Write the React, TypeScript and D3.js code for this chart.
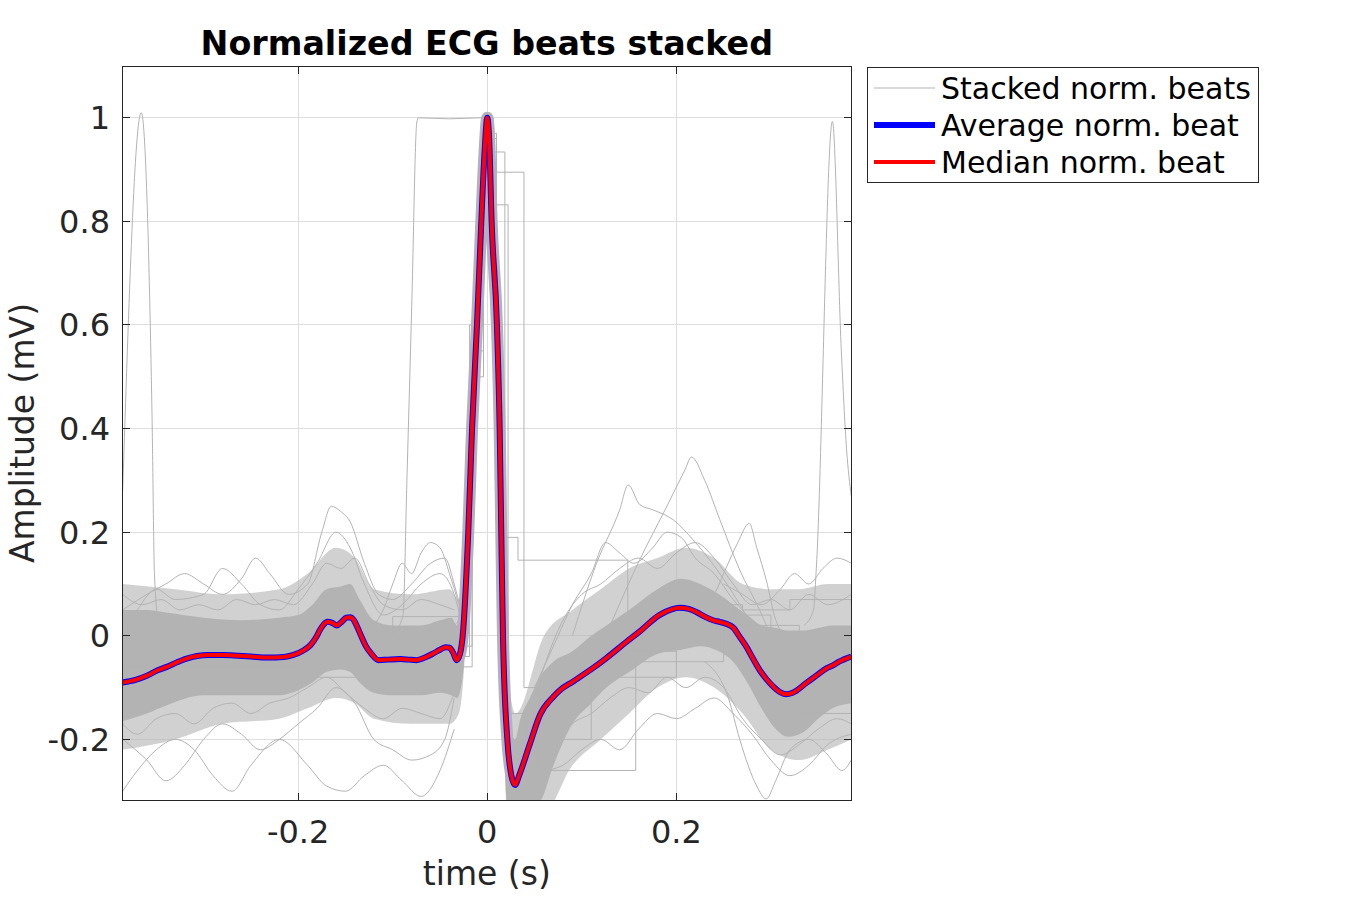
import React from "react";
import * as d3 from "d3";

// ---------- data ----------
const xTicks = [-0.2, 0, 0.2];
const yTicks = [-0.2, 0, 0.2, 0.4, 0.6, 0.8, 1];

const medianBeat: [number, number][] = [
  [-0.3856, -0.09], [-0.372, -0.085], [-0.36, -0.077], [-0.348, -0.066], [-0.339, -0.06], [-0.328, -0.051],
  [-0.318, -0.044], [-0.307, -0.039], [-0.295, -0.037], [-0.28, -0.037], [-0.268, -0.038], [-0.25, -0.04],
  [-0.233, -0.042], [-0.215, -0.041], [-0.205, -0.037], [-0.195, -0.029], [-0.187, -0.018], [-0.181, -0.003],
  [-0.177, 0.011], [-0.173, 0.022], [-0.169, 0.027], [-0.164, 0.025], [-0.159, 0.02], [-0.154, 0.027],
  [-0.149, 0.035], [-0.145, 0.036], [-0.141, 0.03], [-0.137, 0.015], [-0.133, -0.002], [-0.129, -0.018],
  [-0.122, -0.036], [-0.115, -0.047], [-0.105, -0.046], [-0.092, -0.045], [-0.083, -0.046], [-0.075, -0.047],
  [-0.066, -0.042], [-0.057, -0.034], [-0.05, -0.027], [-0.044, -0.022], [-0.04, -0.023], [-0.036, -0.033],
  [-0.0325, -0.047], [-0.029, -0.036], [-0.026, 0.0], [-0.0201, 0.2], [-0.0161, 0.4], [-0.0109, 0.6],
  [-0.0063, 0.8], [-0.003, 0.93], [0, 1.0], [0.002, 0.96], [0.0046, 0.8], [0.0102, 0.6], [0.0131, 0.4],
  [0.0148, 0.2], [0.0166, 0.0], [0.0212, -0.2], [0.0255, -0.27], [0.0293, -0.288], [0.034, -0.268],
  [0.0452, -0.208], [0.0557, -0.153], [0.0697, -0.118], [0.0768, -0.105], [0.0909, -0.088], [0.112, -0.062],
  [0.126, -0.043], [0.147, -0.012], [0.161, 0.008], [0.182, 0.04], [0.195, 0.051], [0.2034, 0.054],
  [0.213, 0.052], [0.221, 0.046], [0.231, 0.036], [0.2388, 0.03], [0.2456, 0.027], [0.253, 0.023],
  [0.26, 0.016], [0.267, -0.002], [0.274, -0.021], [0.281, -0.044], [0.288, -0.066], [0.295, -0.083],
  [0.302, -0.097], [0.309, -0.108], [0.316, -0.113], [0.323, -0.11], [0.3375, -0.091], [0.348, -0.077],
  [0.3586, -0.063], [0.3656, -0.057], [0.372, -0.05], [0.385, -0.04],
];

const averageBeat: [number, number][] = [
  [-0.3856, -0.09], [-0.372, -0.085], [-0.36, -0.077], [-0.348, -0.066], [-0.339, -0.06], [-0.328, -0.051],
  [-0.318, -0.044], [-0.307, -0.039], [-0.295, -0.037], [-0.28, -0.037], [-0.268, -0.038], [-0.25, -0.04],
  [-0.233, -0.042], [-0.215, -0.041], [-0.205, -0.037], [-0.195, -0.029], [-0.187, -0.018], [-0.181, -0.003],
  [-0.177, 0.011], [-0.173, 0.022], [-0.169, 0.027], [-0.164, 0.025], [-0.159, 0.02], [-0.154, 0.027],
  [-0.149, 0.035], [-0.145, 0.036], [-0.141, 0.03], [-0.137, 0.015], [-0.133, -0.002], [-0.129, -0.018],
  [-0.122, -0.036], [-0.115, -0.047], [-0.105, -0.046], [-0.092, -0.045], [-0.083, -0.046], [-0.075, -0.047],
  [-0.066, -0.042], [-0.057, -0.034], [-0.05, -0.027], [-0.044, -0.022], [-0.04, -0.023], [-0.036, -0.033],
  [-0.0325, -0.047], [-0.029, -0.036], [-0.026, 0.0], [-0.0201, 0.2], [-0.0161, 0.4], [-0.0109, 0.6],
  [-0.0063, 0.8], [-0.003, 0.93], [0, 1.0], [0.002, 0.96], [0.0046, 0.8], [0.0102, 0.6], [0.0131, 0.4],
  [0.0148, 0.2], [0.0166, 0.0], [0.0212, -0.2], [0.0255, -0.27], [0.0293, -0.288], [0.034, -0.268],
  [0.0452, -0.208], [0.0557, -0.153], [0.0697, -0.118], [0.0768, -0.105], [0.0909, -0.088], [0.112, -0.062],
  [0.126, -0.043], [0.147, -0.012], [0.161, 0.008], [0.182, 0.04], [0.195, 0.051], [0.2034, 0.054],
  [0.213, 0.052], [0.221, 0.046], [0.231, 0.036], [0.2388, 0.03], [0.2456, 0.027], [0.253, 0.023],
  [0.26, 0.016], [0.267, -0.002], [0.274, -0.021], [0.281, -0.044], [0.288, -0.066], [0.295, -0.083],
  [0.302, -0.097], [0.309, -0.108], [0.316, -0.113], [0.323, -0.11], [0.3375, -0.091], [0.348, -0.077],
  [0.3586, -0.063], [0.3656, -0.057], [0.372, -0.05], [0.385, -0.04],
];

// dense core of the stacked beats: [t, low, high]
const coreBand: [number, number, number][] = [
  [-0.3856, -0.165, 0.05], [-0.36, -0.15, 0.05], [-0.34, -0.135, 0.045], [-0.3, -0.115, 0.035],
  [-0.26, -0.115, 0.03], [-0.22, -0.115, 0.035], [-0.2, -0.105, 0.04], [-0.185, -0.09, 0.06],
  [-0.17, -0.07, 0.09], [-0.155, -0.065, 0.095], [-0.145, -0.07, 0.1], [-0.135, -0.09, 0.07],
  [-0.12, -0.11, 0.03], [-0.1, -0.115, 0.02], [-0.07, -0.115, 0.02], [-0.05, -0.11, 0.03],
  [-0.038, -0.115, 0.035], [-0.032, -0.12, 0.02], [-0.026, -0.08, 0.08], [-0.02, 0.12, 0.27],
  [-0.016, 0.31, 0.48], [-0.011, 0.52, 0.68], [-0.006, 0.74, 0.87], [0, 0.94, 1.0], [0.005, 0.72, 0.9],
  [0.01, 0.5, 0.72], [0.013, 0.28, 0.55], [0.0166, -0.1, 0.15], [0.0212, -0.33, -0.1], [0.025, -0.33, -0.18],
  [0.0293, -0.33, -0.2], [0.035, -0.33, -0.16], [0.045, -0.33, -0.12], [0.0557, -0.32, -0.08],
  [0.07, -0.25, -0.05], [0.09, -0.17, -0.03], [0.11, -0.13, 0.0], [0.126, -0.1, 0.02], [0.15, -0.07, 0.05],
  [0.18, -0.035, 0.09], [0.205, -0.027, 0.11], [0.225, -0.02, 0.1], [0.245, -0.03, 0.08], [0.26, -0.05, 0.06],
  [0.275, -0.09, 0.04], [0.29, -0.14, 0.02], [0.305, -0.18, 0.015], [0.318, -0.195, 0.01],
  [0.335, -0.185, 0.01], [0.35, -0.16, 0.015], [0.365, -0.14, 0.02], [0.385, -0.13, 0.02],
];

// looser fringe of the stacked beats: [t, low, high]
const fringeBand: [number, number, number][] = [
  [-0.3856, -0.22, 0.1], [-0.33, -0.2, 0.09], [-0.28, -0.17, 0.08], [-0.22, -0.16, 0.09], [-0.19, -0.14, 0.12],
  [-0.16, -0.12, 0.17], [-0.14, -0.13, 0.15], [-0.12, -0.16, 0.09], [-0.08, -0.17, 0.08], [-0.04, -0.17, 0.09],
  [-0.03, -0.15, 0.07], [-0.026, -0.1, 0.1], [-0.02, 0.1, 0.3], [-0.016, 0.29, 0.5], [-0.011, 0.5, 0.7],
  [-0.006, 0.72, 0.89], [0, 0.92, 1.0], [0.005, 0.7, 0.92], [0.01, 0.48, 0.75], [0.013, 0.26, 0.58],
  [0.0166, -0.12, 0.18], [0.0212, -0.34, -0.06], [0.03, -0.34, -0.15], [0.06, -0.34, 0.0], [0.09, -0.25, 0.05],
  [0.12, -0.2, 0.09], [0.15, -0.15, 0.13], [0.18, -0.1, 0.15], [0.21, -0.08, 0.17], [0.24, -0.1, 0.15],
  [0.27, -0.15, 0.1], [0.3, -0.22, 0.09], [0.33, -0.24, 0.09], [0.36, -0.22, 0.1], [0.385, -0.2, 0.1],
];

// individual outlying beats, [t, amplitude]
const spikeLeft: [number, number][] = [
  [-0.3856, 0.28], [-0.366, 1.01], [-0.3546, 0.43], [-0.352, 0.12], [-0.348, 0.03], [-0.34, 0.0], [-0.33, -0.02],
];
const spikeRight: [number, number][] = [
  [0.335, 0.02], [0.345, 0.05], [0.348, 0.13], [0.365, 0.993], [0.3744, 0.552], [0.38, 0.36], [0.385, 0.27],
];
const clippedBeat: [number, number][] = [
  [-0.12, -0.03], [-0.1, 0.0], [-0.0891, 0.04], [-0.085, 0.3], [-0.0799, 0.636], [-0.0746, 0.99],
  [-0.0729, 1.0], [-0.04, 0.998], [-0.0077, 1.0], [0.0, 1.0], [0.006, 0.8], [0.012, 0.45], [0.018, -0.05],
  [0.026, -0.27], [0.036, -0.25], [0.05, -0.17],
];
const qrsVariantA: [number, number][] = [
  [-0.035, -0.03], [-0.028, 0.0], [-0.02, 0.25], [-0.012, 0.62], [-0.004, 0.95], [0.003, 1.0], [0.008, 0.9],
  [0.012, 0.62], [0.016, 0.3], [0.02, 0.0], [0.026, -0.24], [0.032, -0.3], [0.04, -0.27], [0.05, -0.2],
];
const qrsVariantB: [number, number][] = [
  [-0.035, -0.06], [-0.027, -0.04], [-0.022, 0.1], [-0.014, 0.5], [-0.006, 0.85], [0.0, 0.97], [0.005, 0.88],
  [0.009, 0.7], [0.012, 0.45], [0.0145, 0.1], [0.018, -0.2], [0.024, -0.31], [0.034, -0.3], [0.045, -0.24],
];
const qrsVariantC: [number, number][] = [
  [-0.035, 0.02], [-0.026, 0.05], [-0.018, 0.35], [-0.01, 0.75], [-0.002, 0.98], [0.004, 0.97], [0.01, 0.78],
  [0.0135, 0.5], [0.017, 0.25], [0.021, -0.05], [0.027, -0.2], [0.035, -0.22], [0.05, -0.16],
];
const stepBeatA: [number, number][] = [
  [-0.385, -0.06], [-0.2, -0.05], [-0.1, -0.04], [-0.03, -0.04], [-0.0187, 0.6], [-0.006, 1.0],
  [0.0063, 0.934], [0.0186, 0.19], [0.0325, 0.146], [0.1486, -0.03], [0.2, 0.05], [0.26, 0.04],
  [0.3, -0.05], [0.385, -0.02],
];
const stepBeatB: [number, number][] = [
  [-0.385, -0.1], [-0.2, -0.08], [-0.03, -0.06], [-0.016, 0.5], [-0.004, 0.96], [0.0098, 0.895],
  [0.0388, -0.1], [0.055, -0.26], [0.157, -0.05], [0.25, 0.02], [0.33, -0.15], [0.385, -0.1],
];
const stepBeatC: [number, number][] = [
  [-0.385, 0.0], [-0.1, 0.037], [-0.03, -0.02], [-0.016, 0.55], [-0.004, 0.97], [0.0098, 0.832],
  [0.022, -0.15], [0.04, -0.2], [0.11, -0.08], [0.2, 0.06], [0.27, 0.05], [0.32, 0.07], [0.385, 0.06],
];
const highT1: [number, number][] = [
  [0.09, 0.0], [0.1156, 0.14], [0.14, 0.243], [0.149, 0.291], [0.1614, 0.253], [0.1755, 0.243],
  [0.1966, 0.224], [0.2178, 0.185], [0.257, 0.09], [0.28, 0.02],
];
const highT2: [number, number][] = [
  [0.13, 0.02], [0.161, 0.146], [0.188, 0.243], [0.209, 0.32], [0.216, 0.345], [0.23, 0.3], [0.246, 0.224],
  [0.267, 0.127], [0.288, 0.05], [0.3, 0.0],
];
const highT3: [number, number][] = [
  [0.22, 0.05], [0.24, 0.08], [0.2516, 0.127], [0.265, 0.18], [0.277, 0.217], [0.285, 0.17], [0.295, 0.108],
  [0.305, 0.031], [0.315, 0.0],
];
const highT4: [number, number][] = [
  [0.05, -0.1], [0.07, -0.02], [0.09, 0.06], [0.11, 0.12], [0.125, 0.18], [0.14, 0.16], [0.155, 0.14],
  [0.175, 0.17], [0.19, 0.2], [0.205, 0.19], [0.22, 0.15], [0.24, 0.12], [0.26, 0.07], [0.28, 0.03],
];
const highT5: [number, number][] = [
  [0.04, -0.18], [0.06, -0.06], [0.08, 0.03], [0.1, 0.08], [0.12, 0.1], [0.14, 0.13], [0.16, 0.15],
  [0.18, 0.13], [0.2, 0.16], [0.22, 0.18], [0.24, 0.15], [0.26, 0.1], [0.28, 0.06], [0.3, 0.07],
  [0.32, 0.05], [0.34, 0.08], [0.36, 0.06], [0.385, 0.08],
];
const highEnd: [number, number][] = [
  [0.25, 0.1], [0.27, 0.08], [0.29, 0.06], [0.31, 0.09], [0.325, 0.12], [0.34, 0.1], [0.355, 0.13],
  [0.37, 0.15], [0.385, 0.14],
];
const lowEnd: [number, number][] = [
  [0.23, -0.05], [0.255, -0.12], [0.267, -0.2], [0.285, -0.29], [0.295, -0.315], [0.305, -0.28],
  [0.32, -0.22], [0.34, -0.2], [0.36, -0.23], [0.375, -0.26], [0.385, -0.24],
];
const lowMid: [number, number][] = [
  [0.06, -0.26], [0.08, -0.25], [0.1, -0.22], [0.12, -0.2], [0.14, -0.22], [0.16, -0.18], [0.18, -0.15],
  [0.2, -0.16], [0.22, -0.14], [0.24, -0.12], [0.26, -0.15], [0.28, -0.19], [0.3, -0.24], [0.32, -0.27],
  [0.34, -0.25], [0.36, -0.21], [0.385, -0.19],
];
const lowMid2: [number, number][] = [
  [0.05, -0.3], [0.07, -0.22], [0.09, -0.17], [0.11, -0.15], [0.13, -0.12], [0.15, -0.1], [0.17, -0.11],
  [0.19, -0.08], [0.21, -0.1], [0.23, -0.08], [0.25, -0.1], [0.27, -0.16], [0.29, -0.2], [0.31, -0.23],
  [0.33, -0.21], [0.35, -0.18], [0.37, -0.16], [0.385, -0.17],
];
const lowStart1: [number, number][] = [
  [-0.3856, -0.2], [-0.36, -0.24], [-0.34, -0.28], [-0.32, -0.25], [-0.3, -0.2], [-0.28, -0.17],
  [-0.26, -0.19], [-0.24, -0.22], [-0.22, -0.2], [-0.2, -0.17], [-0.18, -0.14], [-0.16, -0.1],
  [-0.14, -0.13], [-0.12, -0.2], [-0.1, -0.22], [-0.08, -0.24], [-0.06, -0.23], [-0.045, -0.2],
  [-0.035, -0.12],
];
const lowStart2: [number, number][] = [
  [-0.3856, -0.3], [-0.37, -0.26], [-0.35, -0.22], [-0.33, -0.2], [-0.31, -0.22], [-0.29, -0.27],
  [-0.27, -0.3], [-0.25, -0.25], [-0.22, -0.2], [-0.19, -0.25], [-0.17, -0.29], [-0.15, -0.3],
  [-0.13, -0.27], [-0.11, -0.25], [-0.09, -0.28], [-0.07, -0.31], [-0.05, -0.26], [-0.035, -0.18],
];
const lowStart3: [number, number][] = [
  [-0.3856, -0.17], [-0.37, -0.19], [-0.35, -0.16], [-0.33, -0.15], [-0.31, -0.17], [-0.29, -0.14],
  [-0.27, -0.13], [-0.25, -0.15], [-0.23, -0.13], [-0.21, -0.12], [-0.19, -0.1], [-0.17, -0.08],
  [-0.15, -0.11], [-0.13, -0.14], [-0.11, -0.16], [-0.09, -0.14], [-0.07, -0.15], [-0.05, -0.16],
  [-0.035, -0.11],
];
const highStart1: [number, number][] = [
  [-0.3856, 0.05], [-0.36, 0.08], [-0.34, 0.1], [-0.32, 0.12], [-0.3, 0.1], [-0.28, 0.08], [-0.26, 0.11],
  [-0.245, 0.15], [-0.23, 0.12], [-0.21, 0.08], [-0.19, 0.1], [-0.175, 0.2], [-0.165, 0.25], [-0.155, 0.24],
  [-0.145, 0.22], [-0.13, 0.14], [-0.115, 0.08], [-0.1, 0.07], [-0.08, 0.1], [-0.06, 0.14], [-0.045, 0.15],
  [-0.035, 0.1], [-0.028, 0.05],
];
const highStart2: [number, number][] = [
  [-0.3856, 0.0], [-0.37, 0.05], [-0.35, 0.09], [-0.33, 0.07], [-0.3, 0.08], [-0.28, 0.13], [-0.26, 0.1],
  [-0.24, 0.06], [-0.22, 0.05], [-0.2, 0.09], [-0.18, 0.14], [-0.16, 0.2], [-0.145, 0.17], [-0.13, 0.1],
  [-0.11, 0.04], [-0.09, 0.06], [-0.07, 0.1], [-0.05, 0.12], [-0.035, 0.08], [-0.028, 0.03],
];
const highStart3: [number, number][] = [
  [-0.3856, 0.08], [-0.365, 0.06], [-0.345, 0.07], [-0.325, 0.05], [-0.305, 0.06], [-0.285, 0.05],
  [-0.265, 0.07], [-0.245, 0.06], [-0.225, 0.07], [-0.205, 0.06], [-0.185, 0.1], [-0.17, 0.14],
  [-0.155, 0.13], [-0.14, 0.15], [-0.125, 0.1], [-0.11, 0.06], [-0.09, 0.05], [-0.07, 0.07],
  [-0.05, 0.06], [-0.035, 0.05],
];
const highMid: [number, number][] = [
  [-0.12, 0.02], [-0.11, 0.05], [-0.1, 0.1], [-0.09, 0.14], [-0.08, 0.12], [-0.07, 0.16], [-0.06, 0.18],
  [-0.05, 0.17], [-0.04, 0.12], [-0.03, 0.06],
];

const smoothOutliers = [spikeLeft, spikeRight, clippedBeat, qrsVariantA, qrsVariantB, qrsVariantC, highT1, highT2,
  highT3, highT4, highT5, highEnd, lowEnd, lowMid, lowMid2, lowStart1, lowStart2, lowStart3, highStart1,
  highStart2, highStart3, highMid];
const stepOutliers = [stepBeatA, stepBeatB, stepBeatC];

const legendLabels = ["Stacked norm. beats", "Average norm. beat", "Median norm. beat"];
const legendColors = ["#b3b3b3", "#0000ff", "#ff0000"];
const legendWidths = [1, 6, 4];

// ---------- layout ----------
const W = 1350, H = 900;
const PL = 122.3, PR = 851.3, PT = 66, PB = 800;
const FONT = "'DejaVu Sans', sans-serif";
const AXC = "#262626";
const GRAY = "#b3b3b3";

const fmt = (t: number) => String(t);

export default function App() {
  const x = d3.scaleLinear().domain([-0.386, 0.385]).range([PL, PR]);
  const y = d3.scaleLinear().domain([-0.317, 1.1]).range([PB, PT]);

  const lineSmooth = d3.line<[number, number]>().x(d => x(d[0])).y(d => y(d[1])).curve(d3.curveMonotoneX);
  const lineStep = d3.line<[number, number]>().x(d => x(d[0])).y(d => y(d[1])).curve(d3.curveStepAfter);
  const band = d3.area<[number, number, number]>()
    .x(d => x(d[0])).y0(d => y(d[1])).y1(d => y(d[2])).curve(d3.curveMonotoneX);

  const tick = 7.5;

  return (
    <svg width={W} height={H} style={{ position: "absolute", left: 0, top: 0, background: "#fff" }}
      fontFamily={FONT}>
      <defs>
        <clipPath id="plotClip">
          <rect x={PL} y={PT} width={PR - PL} height={PB - PT} />
        </clipPath>
      </defs>
      <rect x={0} y={0} width={W} height={H} fill="#fff" />

      {/* grid */}
      <g stroke="#dedede" strokeWidth={1} shapeRendering="crispEdges">
        {xTicks.map(t => <line key={"gx" + t} x1={x(t)} x2={x(t)} y1={PT} y2={PB} />)}
        {yTicks.map(t => <line key={"gy" + t} x1={PL} x2={PR} y1={y(t)} y2={y(t)} />)}
      </g>

      <g clipPath="url(#plotClip)">
        <path d={band(fringeBand) || ""} fill={GRAY} fillOpacity={0.6} />
        <path d={band(coreBand) || ""} fill={GRAY} />
        <path d={lineSmooth(medianBeat) || ""} fill="none" stroke={GRAY} strokeWidth={12} strokeLinejoin="round" />
        {smoothOutliers.map((o, i) => (
          <path key={"o" + i} d={lineSmooth(o) || ""} fill="none" stroke={GRAY} strokeWidth={1} />
        ))}
        {stepOutliers.map((o, i) => (
          <path key={"s" + i} d={lineStep(o) || ""} fill="none" stroke={GRAY} strokeWidth={1} />
        ))}
        <path d={lineSmooth(averageBeat) || ""} fill="none" stroke="#0000ff" strokeWidth={6} strokeLinejoin="round" />
        <path d={lineSmooth(medianBeat) || ""} fill="none" stroke="#ff0000" strokeWidth={4} strokeLinejoin="round" />
      </g>

      {/* axes box and ticks */}
      <g stroke={AXC} strokeWidth={1} fill="none" shapeRendering="crispEdges">
        <rect x={PL} y={PT} width={PR - PL} height={PB - PT} />
        {xTicks.map(t => (
          <g key={"tx" + t}>
            <line x1={x(t)} x2={x(t)} y1={PB} y2={PB - tick} />
            <line x1={x(t)} x2={x(t)} y1={PT} y2={PT + tick} />
          </g>
        ))}
        {yTicks.map(t => (
          <g key={"ty" + t}>
            <line x1={PL} x2={PL + tick} y1={y(t)} y2={y(t)} />
            <line x1={PR} x2={PR - tick} y1={y(t)} y2={y(t)} />
          </g>
        ))}
      </g>

      {/* tick labels */}
      <g fill={AXC} fontSize={32}>
        {xTicks.map(t => (
          <text key={"lx" + t} x={x(t)} y={843} textAnchor="middle">{fmt(t)}</text>
        ))}
        {yTicks.map(t => (
          <text key={"ly" + t} x={110} y={y(t) + 11.5} textAnchor="end">{fmt(t)}</text>
        ))}
      </g>

      {/* axis labels and title */}
      <text x={(PL + PR) / 2} y={885} textAnchor="middle" fontSize={33} fill={AXC}>time (s)</text>
      <text transform={`translate(34,${(PT + PB) / 2}) rotate(-90)`} textAnchor="middle" fontSize={33} fill={AXC}>
        Amplitude (mV)
      </text>
      <text x={(PL + PR) / 2} y={55} textAnchor="middle" fontSize={33.3} fontWeight="bold" fill="#000">
        Normalized ECG beats stacked
      </text>

      {/* legend */}
      <g>
        <rect x={867.5} y={67.5} width={391} height={115} fill="#fff" stroke={AXC} strokeWidth={1}
          shapeRendering="crispEdges" />
        {legendLabels.map((lab, i) => {
          const cy = 88 + i * 37;
          return (
            <g key={lab}>
              <line x1={874} x2={935} y1={cy} y2={cy} stroke={legendColors[i]} strokeWidth={legendWidths[i]} />
              <text x={941} y={cy + 11} fontSize={30} fill="#000">{lab}</text>
            </g>
          );
        })}
      </g>
    </svg>
  );
}
